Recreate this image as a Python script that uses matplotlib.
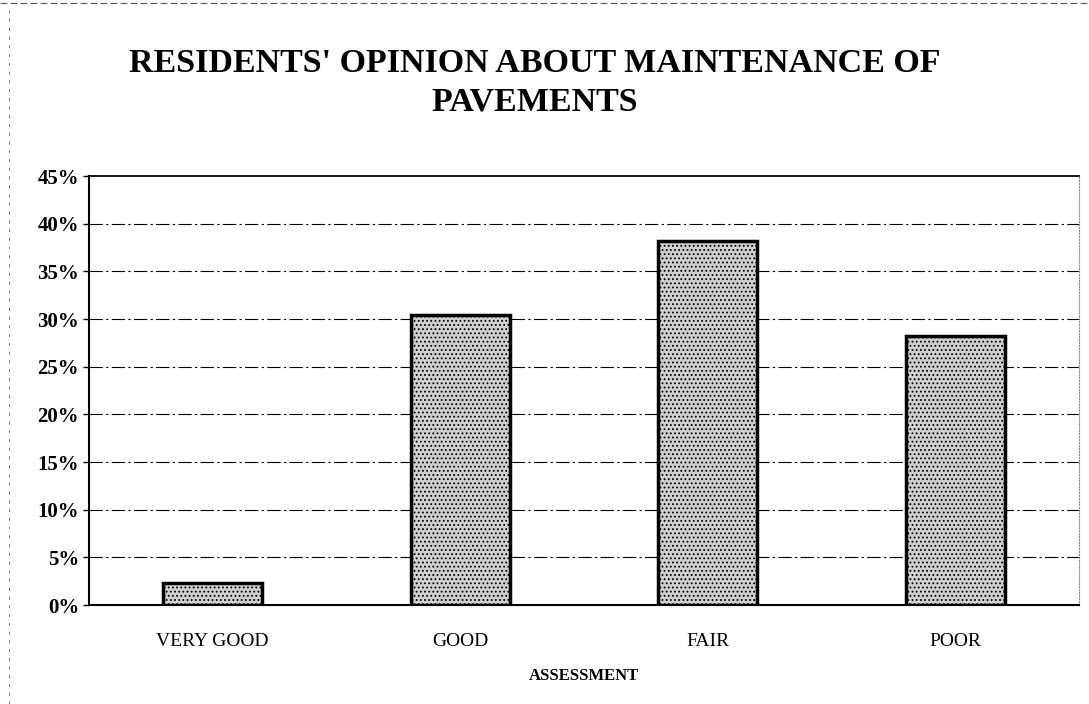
import matplotlib.pyplot as plt
from matplotlib.lines import Line2D
from matplotlib.ticker import FuncFormatter
import numpy as np

# data
categories = ["VERY GOOD", "GOOD", "FAIR", "POOR"]
shares = [2.3, 30.4, 38.2, 28.2]   # percent of residents
yticks = list(range(0, 50, 5))

plt.rcParams['font.family'] = ['Liberation Serif', 'DejaVu Serif']
plt.rcParams['hatch.color'] = '#8a8a8a'
plt.rcParams['hatch.linewidth'] = 0.8

fig = plt.figure(figsize=(10.89, 7.04), dpi=100)
ax = fig.add_axes([0.0817, 0.1406, 0.9091, 0.6094])

x = np.arange(len(categories))
ax.bar(x, shares, width=0.40, facecolor='#cfcfcf', edgecolor='black',
       linewidth=2.5, hatch='....', zorder=3)

ax.set_xlim(-0.5, len(categories) - 0.5)
ax.set_ylim(0, 45)
ax.set_yticks(yticks)
ax.yaxis.set_major_formatter(FuncFormatter(lambda v, p: "%d%%" % v))
ax.set_xticks(x)
ax.set_xticklabels(categories, fontsize=14)
for lab in ax.get_yticklabels():
    lab.set_fontsize(15)
    lab.set_fontweight('bold')

ax.tick_params(axis='y', length=4, width=1, direction='out', pad=3)
ax.tick_params(axis='x', length=0, pad=20)

# dash-dot gridlines like the original print
for v in yticks[1:-1]:
    ax.axhline(v, color='black', linewidth=0.8, linestyle=(0, (12, 3, 2, 3)), zorder=1)

ax.spines['left'].set_linewidth(1.5)
ax.spines['bottom'].set_linewidth(1.5)
ax.spines['top'].set_linewidth(1.3)
ax.spines['right'].set_linestyle(':')
ax.spines['right'].set_color('#888888')

ax.set_xlabel("ASSESSMENT", fontsize=12, fontweight='bold', labelpad=13)

fig.text(0.491, 0.882, "RESIDENTS' OPINION ABOUT MAINTENANCE OF\nPAVEMENTS",
         ha='center', va='center', fontsize=24.5, fontweight='bold', linespacing=1.3)

# scan border remnants
fig.add_artist(Line2D([0, 1], [0.996, 0.996], transform=fig.transFigure,
                      color='#555555', linewidth=0.8, linestyle=(0, (6, 3))))
fig.add_artist(Line2D([0.008, 0.008], [0, 0.99], transform=fig.transFigure,
                      color='#777777', linewidth=0.7, linestyle=(0, (3, 6))))

fig.savefig("out.png", dpi=100)
